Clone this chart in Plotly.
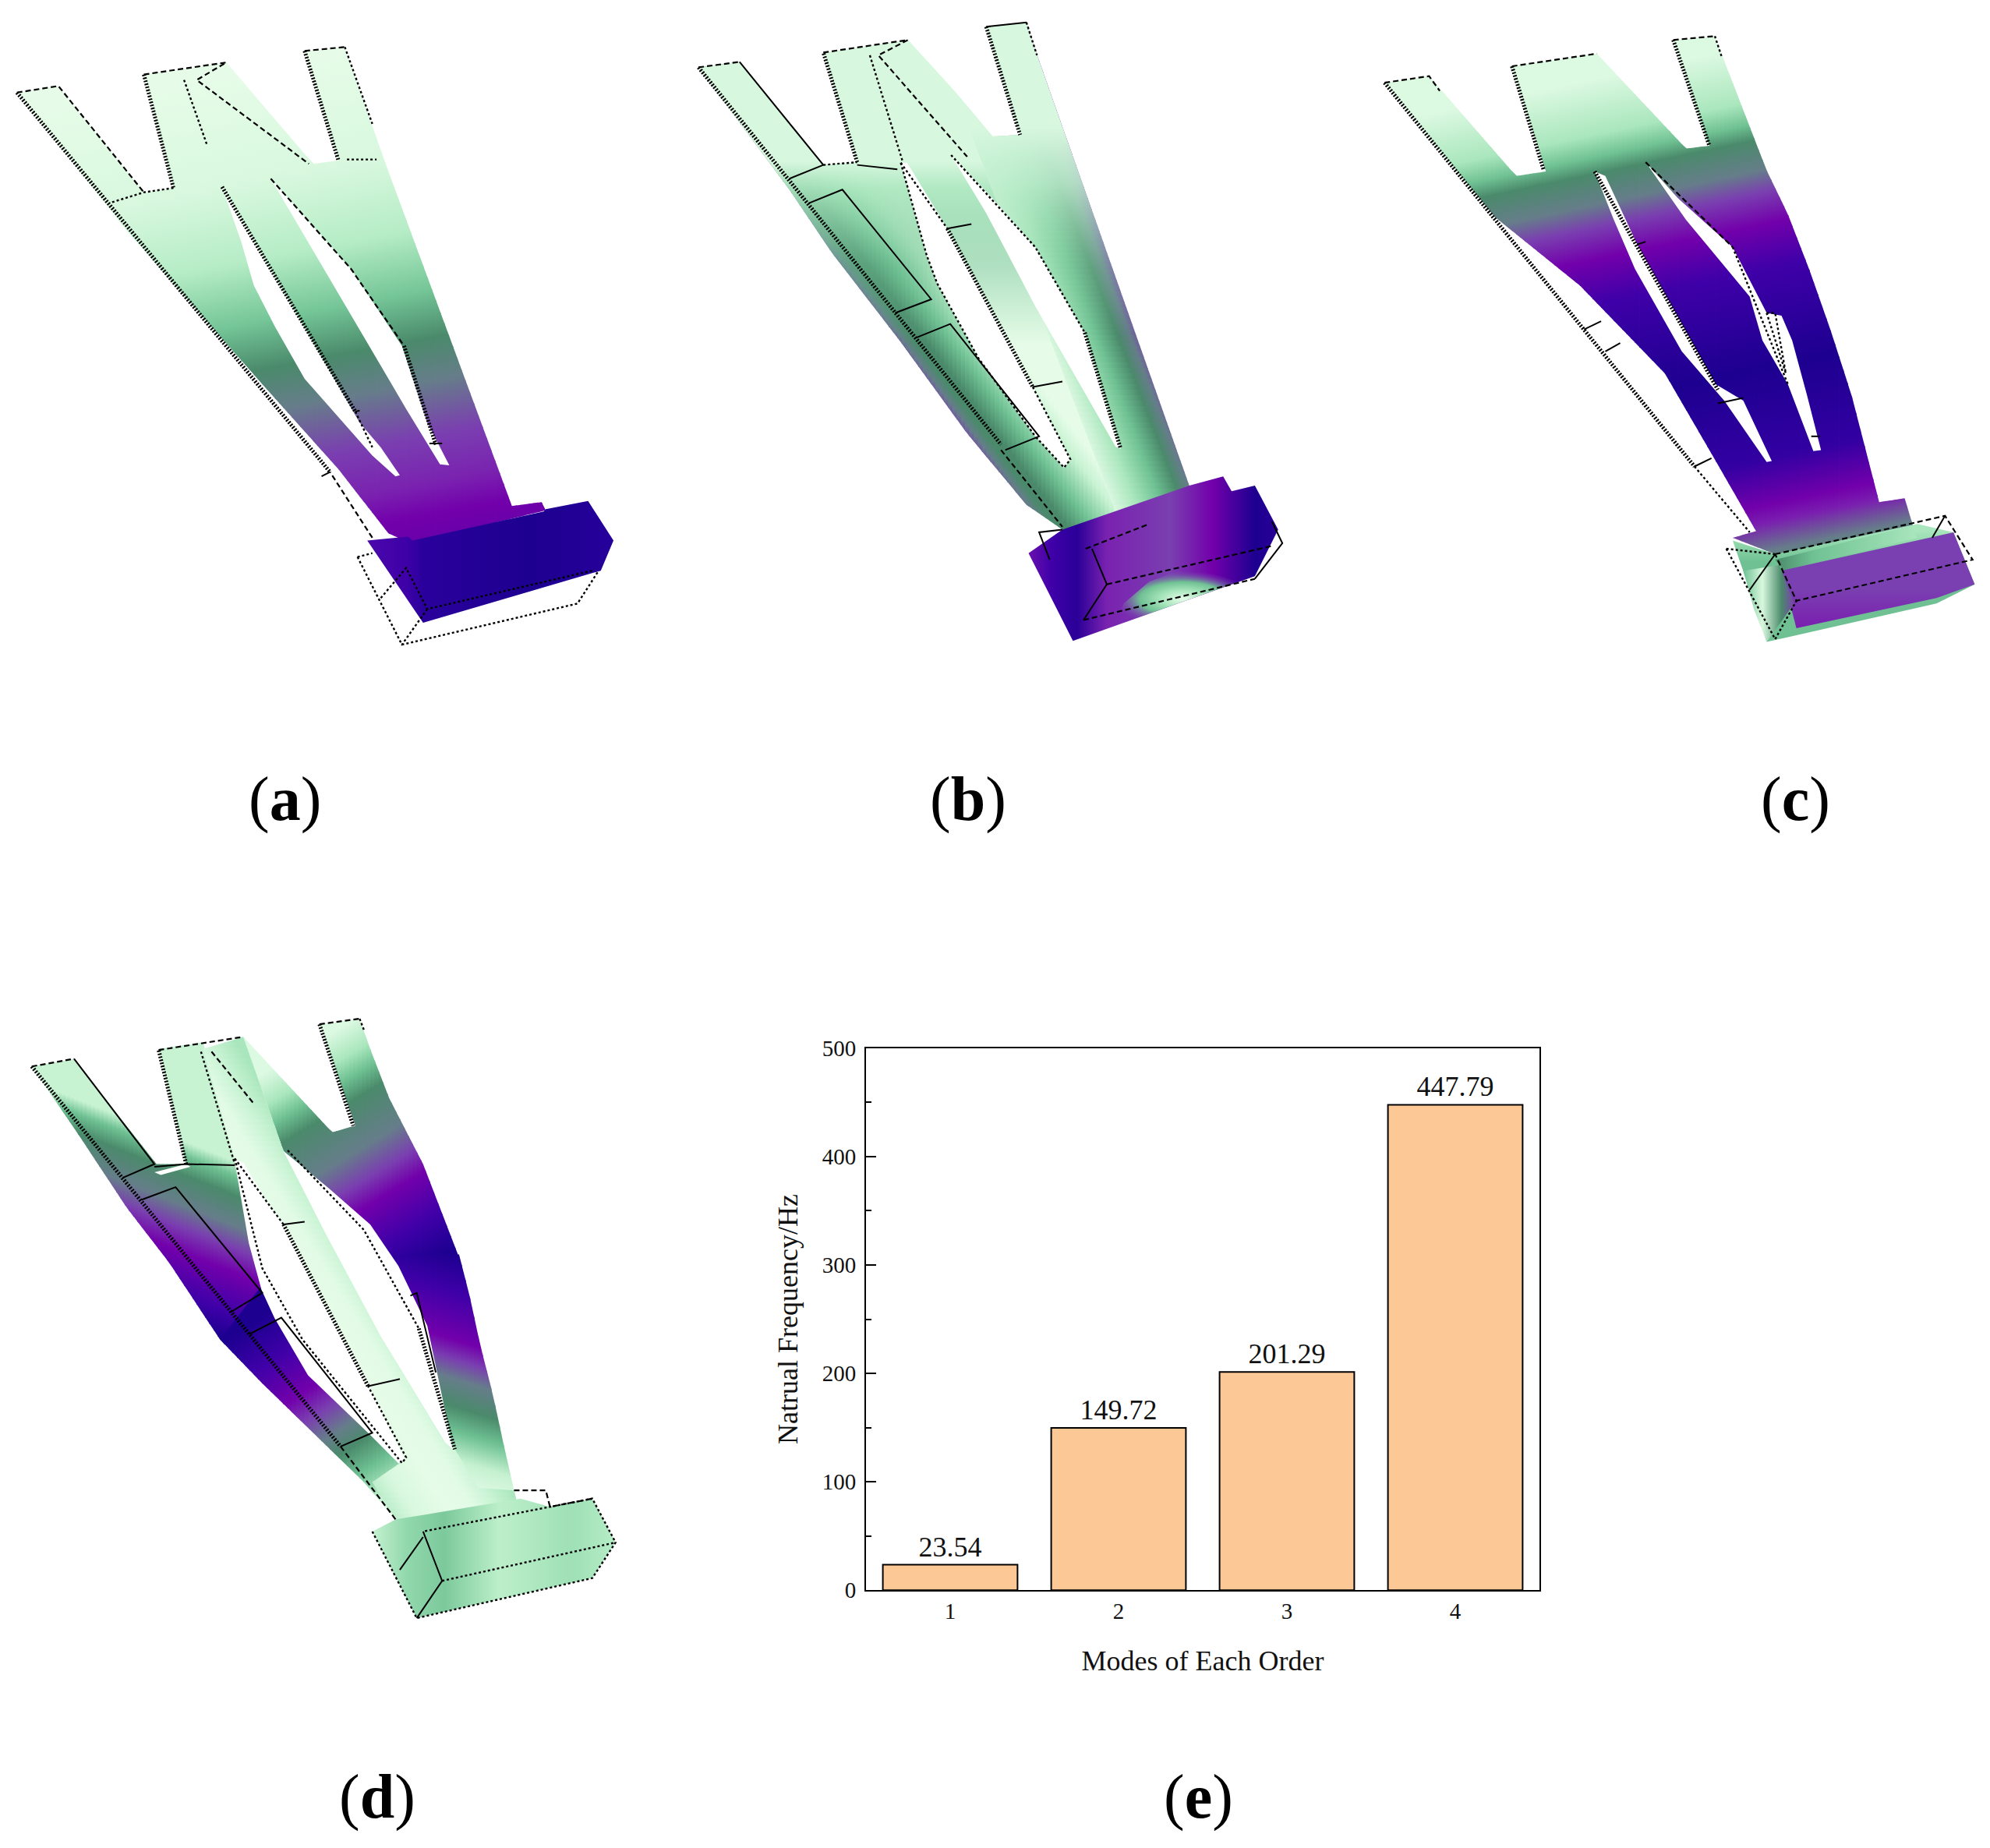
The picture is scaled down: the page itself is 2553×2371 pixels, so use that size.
import plotly.graph_objects as go

W, H = 2553, 2371

# ---------- bar chart (e) ----------
modes = [1, 2, 3, 4]
frequencies = [23.54, 149.72, 201.29, 447.79]
freq_labels = ["23.54", "149.72", "201.29", "447.79"]
y_ticks = [0, 100, 200, 300, 400, 500]
x_title = "Modes of Each Order"
y_title = "Natrual Frequency/Hz"
panel_letters = ["a", "b", "c", "d", "e"]

# ---------- palette read from the mode shapes ----------
M0, M1, M2, G1, G2 = "#e6fce8", "#c8f3d3", "#a9e6bd", "#6fc193", "#4a8a6b"
GY, VI, PU, B1, B2 = "#667d8a", "#7a3fb0", "#7200ab", "#3f00a8", "#1d0090"

# ---------- panel (a), outlines in crop units ----------
A_BODY = [(40,168),(138,156),(340,350),(410,342),(340,135),(535,113),(740,298),(800,292),(720,92),(815,85),(910,295),(1210,922),(1280,915),(1290,930),(970,990),(918,972),(800,855),(620,700),(500,595),(300,420)]
A_STOPS = [(214,M0),(414,"#d8f8de"),(554,"#b5ecc6"),(666,"#74c597"),(753,G2),(830,GY),(927,VI),(1014,"#7a22b0"),(1070,PU),(1130,"#6600a8")]
A_BASE = [(868,985),(965,978),(975,985),(1285,932),(1290,928),(1390,913),(1450,985),(1420,1040),(1000,1135)]
A_BASE_STOPS = [(868,"#4a08ab"),(960,"#3f00a8"),(1000,"#2a009c"),(1250,B2),(1450,"#26009a")]
A_HOLES = [
    [(525,340),(570,440),(600,520),(650,595),(720,690),(800,760),(880,830),(935,868),(945,866),(900,815),(850,770),(835,750),(700,570)],
    [(640,325),(830,490),(950,630),(1010,770),(1062,848),(1040,846),(960,745)],
]
A_WIRE = {
    "dash": [[(40,168),(138,156),(340,350)],[(340,135),(535,113),(465,145),(730,298)],[(720,92),(815,85)],[(640,325),(830,490),(955,630)],[(880,980),(780,860)]],
    "dot": [[(410,342),(340,350),(265,368)],[(435,145),(490,265)],[(815,85),(880,225)],[(845,1015),(880,1008)],[(845,1015),(950,1175),(1365,1100),(1415,1040)],[(900,1090),(960,1035),(1010,1110),(1400,1040)],[(1010,1110),(950,1175)],[(820,290),(890,290)],[(840,750),(880,815)]],
    "hatch": [[(40,168),(780,860)],[(340,135),(410,342)],[(720,92),(800,292)],[(525,340),(840,750)],[(955,630),(1030,810)]],
    "solid": [[(1015,808),(1045,808)],[(840,750),(850,748)],[(780,860),(760,868)]],
}

# ---------- panel (b) ----------
B_LEFT = [(85,122),(182,112),(380,300),(460,295),(380,95),(580,72),(690,165),(1085,960),(945,965),(860,920),(720,790),(560,620),(400,460),(300,345)]
B_RIGHT = [(690,165),(780,248),(845,245),(765,48),(860,40),(890,110),(1245,885),(1245,960),(1085,960)]
B_LEFT_STOPS = [(-70,VI),(-45,GY),(-20,G2),(10,G2),(70,G1),(150,M1),(200,M0)]
B_RIGHT_STOPS = [(590,M0),(660,M2),(720,G1),(770,G2),(800,GY),(830,VI),(860,PU)]
B_LEFT_FADE = [(290,"rgba(215,247,222,1)"),(340,"rgba(170,230,190,0.9)"),(480,"rgba(110,190,145,0.45)"),(620,"rgba(110,190,145,0)")]
B_RIGHT_FADE = [(230,"rgba(215,247,222,1)"),(330,"rgba(190,238,205,0.85)"),(480,"rgba(150,220,175,0.3)"),(600,"rgba(150,220,175,0)")]
B_BASE = [(865,1008),(945,965),(1245,885),(1325,868),(1345,895),(1400,885),(1455,965),(1400,1050),(970,1168)]
B_BASE_STOPS = [(865,"#6a10ae"),(920,B1),(980,"#2a0098"),(1050,"#7a22b0"),(1200,VI),(1300,PU),(1400,B2),(1455,"#2a0098")]
B_GLOW = [(1060,1143),(1090,1100),(1150,1060),(1220,1040),(1300,1045),(1360,1060),(1400,1050)]
B_GLOW_STOPS = [(0,M0),(0.3,M2),(0.6,G1),(1,"rgba(122,63,176,0)")]
B_HOLES = [
    [(563,296),(578,296),(673,416),(875,705),(964,837),(949,852),(881,795),(747,653),(649,516),(624,464)],
    [(682,282),(783,364),(881,450),(998,606),(1083,818),(1071,814),(881,558),(765,388)],
]
B_WIRE = {
    "dash": [[(85,122),(182,112)],[(380,95),(580,72),(510,100),(720,285)],[(800,820),(945,960)],[(1000,1000),(1150,955)],[(1050,1065),(1440,995)],[(995,1130),(1400,1055)]],
    "dot": [[(380,300),(460,295)],[(490,100),(568,295)],[(563,296),(673,416)],[(563,296),(624,464),(649,516),(747,653),(881,795)],[(875,705),(964,837),(949,852),(881,795)],[(682,282),(881,450),(998,606)],[(860,40),(885,100)]],
    "hatch": [[(85,122),(800,810)],[(460,295),(380,95)],[(765,48),(845,245)],[(673,416),(875,705)],[(998,606),(1083,818)]],
    "solid": [[(182,112),(380,300),(300,325)],[(460,300),(555,308)],[(945,965),(890,970),(915,1020)],[(345,370),(425,345),(635,545),(550,570)],[(600,615),(680,590),(890,795),(810,820)],[(673,416),(730,408)],[(875,705),(945,695)],[(765,48),(860,40)],[(1015,1000),(1050,1065),(995,1130)],[(1400,1055),(1465,990),(1440,950)]],
}

# ---------- panel (c) ----------
C_BODY = [(140,150),(245,138),(450,320),(520,312),(438,120),(640,97),(850,270),(905,265),(820,72),(918,65),(940,110),(1040,310),(1090,390),(1140,490),(1190,600),(1240,720),(1280,840),(1305,915),(1365,908),(1395,985),(1060,1010),(960,980),(1015,968),(920,840),(800,680),(600,520),(400,395)]
C_STOPS = [(244,"#dcf9e1"),(344,M2),(384,G1),(414,G2),(470,GY),(510,VI),(568,PU),(648,B1),(826,B2),(992,"#3300a2"),(1075,PU),(1106,"#7a1eb0"),(1158,GY),(1190,G2),(1260,G1)]
C_HOLES = [
    [(635,312),(660,320),(735,445),(920,700),(985,730),(1052,840),(1040,842),(940,730),(840,640),(730,490),(680,400)],
    [(755,295),(830,360),(960,450),(1040,570),(1075,575),(1100,620),(1135,720),(1168,820),(1150,822),(1090,700),(1030,620),(1000,540),(850,400)],
]
C_BASE = [(960,985),(1060,1010),(1395,955),(1480,970),(1530,1065),(1440,1100),(1040,1170),(1000,1075)]
C_BASE_STOPS = [(955,M2),(1010,G1),(1060,G1),(1180,G1)]
C_STRIP = [(1060,1020),(1380,958),(1395,980),(1080,1040)]
C_STRIP_STOPS = [(1060,G2),(1150,G1),(1395,M2)]
C_FRONT = [(1075,1040),(1480,970),(1530,1065),(1440,1090),(1110,1145)]
C_FRONT_STOPS = [(970,VI),(1060,VI),(1130,"#7a1eb0")]
C_SIDE = [(985,1040),(1070,1030),(1105,1100),(1040,1170),(1010,1110)]
C_SIDE_STOPS = [(985,G1),(1030,"#d8f8de"),(1075,G2),(1105,VI)]
C_WIRE = {
    "dash": [[(140,150),(245,138),(270,165)],[(440,120),(640,97)],[(820,72),(918,65)],[(1060,1010),(1460,940),(1525,1020),(1110,1095),(1060,1010)],[(755,295),(960,450)]],
    "dot": [[(945,1000),(1060,1010)],[(945,1000),(1060,1165),(1110,1095)],[(918,65),(935,105)],[(960,450),(1090,700)],[(1040,570),(1060,570),(1085,680),(1040,570)],[(870,850),(1000,970)]],
    "hatch": [[(140,150),(870,850)],[(440,120),(515,310)],[(820,72),(905,265)],[(635,312),(925,710)]],
    "solid": [[(610,600),(650,585)],[(660,640),(695,625)],[(870,850),(910,835)],[(925,735),(985,725)],[(735,445),(755,440)],[(1000,1075),(1060,1010)],[(1145,795),(1165,795)],[(1460,940),(1430,980)]],
}

# ---------- panel (d) ----------
D_UPLEFT = [(75,142),(175,128),(370,320),(440,320),(375,110),(480,98),(560,320),(620,520),(660,570),(590,640),(520,640),(400,500),(300,400),(180,260)]
D_UPLEFT_STOPS = [(144,M1),(170,G1),(205,G2),(260,GY),(300,VI),(345,PU),(420,B1),(470,B2)]
D_LOWLEFT = [(520,640),(620,540),(950,868),(1040,1000),(935,968),(860,900),(740,810),(620,720)]
D_LOWLEFT_STOPS = [(900,B2),(990,B1),(1085,PU),(1140,VI),(1195,GY),(1240,G2),(1300,G1),(1370,M1),(1420,"#e2fbe6")]
D_UPRIGHT = [(575,88),(785,262),(840,250),(755,65),(850,55),(875,110),(920,200),(1000,320),(1085,490),(900,490),(670,296)]
D_UPRIGHT_STOPS = [(440,"#dcf9e1"),(500,M2),(540,G1),(585,G2),(680,GY),(740,VI),(790,PU),(880,B1),(960,B2),(1000,B2)]
D_LOWRIGHT = [(900,485),(1085,485),(1110,560),(1135,650),(1165,740),(1190,830),(1215,915),(1100,950),(1000,800)]
D_LOWRIGHT_STOPS = [(230,B2),(300,B1),(385,PU),(420,VI),(455,GY),(505,G2),(550,G1),(600,"#c5f1d0"),(650,"#e2fbe6")]
D_BEAM = [(480,110),(575,88),(670,296),(1075,840),(1130,910),(1215,915),(1230,960),(1000,1000),(935,968),(880,900),(955,860),(670,430),(555,312)]
D_BEAM_STOPS = [(120,M2),(210,"#d8f8de"),(300,M0),(360,"#e2fbe6"),(420,M1),(480,M2)]
D_BASE = [(880,990),(935,968),(1000,960),(1230,930),(1300,945),(1400,930),(1455,1010),(1400,1075),(985,1148)]
D_BASE_STOPS = [(880,"#c5f1d0"),(960,"#92d8ad"),(1050,"#7cc99c"),(1180,"#bcefca"),(1350,"#9fe0b6"),(1455,"#b5ecc6")]
D_HOLES = [
    [(554,312),(575,317),(667,435),(869,719),(955,856),(942,866),(875,814),(728,705),(649,601),(618,549),(588,464)],
    [(670,296),(777,364),(875,430),(942,506),(1010,615),(1071,840),(1053,828),(900,634),(771,449)],
    [(365,335),(440,320),(450,325),(380,340)],
]
D_WIRE = {
    "dash": [[(75,142),(175,128)],[(375,112),(575,88)],[(755,65),(850,55)],[(500,115),(600,210)],[(805,835),(935,968)],[(1215,915),(1290,915),(1300,945),(1400,930)]],
    "dot": [[(475,115),(555,320)],[(555,310),(620,510),(715,640),(950,865),(960,855),(870,725)],[(670,430),(555,310)],[(680,295),(860,440),(990,620)],[(880,990),(985,1148),(1400,1075),(1455,1010),(1400,930),(1000,990)],[(1045,1080),(1455,1010)],[(850,55),(860,75)]],
    "hatch": [[(75,142),(805,835)],[(440,320),(375,112)],[(755,65),(835,250)],[(670,430),(870,725)],[(990,620),(1075,840)]],
    "solid": [[(175,128),(365,320),(290,345)],[(365,325),(440,320),(555,322)],[(335,385),(415,362),(620,555),(545,590)],[(590,630),(665,600),(880,810),(805,835)],[(670,430),(720,425)],[(870,725),(945,712)],[(970,560),(985,555),(1030,700)],[(1000,990),(1045,1080),(985,1148)],[(945,1060),(1000,1000)]],
}

fig = go.Figure()
STRIP = 10


def clip(poly, axis, limit, keep_above):
    out = []
    n = len(poly)
    for i in range(n):
        p, q = poly[i], poly[(i + 1) % n]
        pin = (p[axis] >= limit) if keep_above else (p[axis] <= limit)
        qin = (q[axis] >= limit) if keep_above else (q[axis] <= limit)
        if pin:
            out.append(p)
        if pin != qin:
            r = (limit - p[axis]) / (q[axis] - p[axis])
            out.append((p[0] + r * (q[0] - p[0]), p[1] + r * (q[1] - p[1])))
    return out


def add_poly(poly, ax, kind, stops=None, start=None, stop=None, color=None):
    xs = [p[0] for p in poly] + [poly[0][0]]
    ys = [p[1] for p in poly] + [poly[0][1]]
    kw = dict(fillcolor=color) if color else {}
    if stops:
        t0, t1 = stops[0][0], stops[-1][0]
        scale = [[(t - t0) / (t1 - t0), c] for t, c in stops]
        grad = dict(type=kind, colorscale=scale)
        if start is not None:
            grad.update(start=start, stop=stop)
        kw = dict(fillgradient=grad)
    fig.add_trace(go.Scatter(x=xs, y=ys, mode="lines", fill="toself", line=dict(width=0),
                             hoverinfo="skip", showlegend=False, xaxis=ax[0], yaxis=ax[1], **kw))


def band(poly, ax, normal, stops):
    """Linear gradient across a tilted direction, cut into thin strips."""
    nx, ny = normal
    t0, t1 = stops[0][0], stops[-1][0]
    vertical = abs(ny) >= abs(nx)
    axis = 0 if vertical else 1
    lo = min(p[axis] for p in poly)
    hi = max(p[axis] for p in poly)
    c = lo
    while c < hi:
        piece = clip(clip(poly, axis, c, True), axis, c + STRIP + 1.5, False)
        if len(piece) >= 3:
            m = c + STRIP / 2
            if vertical:
                add_poly(piece, ax, "vertical", stops, (t0 - nx * m) / ny, (t1 - nx * m) / ny)
            else:
                add_poly(piece, ax, "horizontal", stops, (t0 - ny * m) / nx, (t1 - ny * m) / nx)
        c += STRIP


def linear(poly, ax, kind, stops):
    add_poly(poly, ax, kind, stops, stops[0][0], stops[-1][0])


def holes(hole_list, ax):
    for h in hole_list:
        add_poly(h, ax, None, color="#ffffff")


WIRE_STYLE = {
    "solid": dict(width=2.0, dash="solid"),
    "dash": dict(width=2.2, dash="7px,4px"),
    "dot": dict(width=2.4, dash="3px,3px"),
    "hatch": dict(width=5.0, dash="2px,2px"),
}


def wires(groups, ax):
    for style, lines in groups.items():
        xs, ys = [], []
        for ln in lines:
            xs += [p[0] for p in ln] + [None]
            ys += [p[1] for p in ln] + [None]
        fig.add_trace(go.Scatter(x=xs, y=ys, mode="lines", line=dict(color="#000000", **WIRE_STYLE[style]),
                                 hoverinfo="skip", showlegend=False, xaxis=ax[0], yaxis=ax[1]))


AX_A, AX_B, AX_C, AX_D = ("x2", "y2"), ("x3", "y3"), ("x4", "y4"), ("x5", "y5")

# (a)
band(A_BODY, AX_A, (0.143, 1), A_STOPS)
linear(A_BASE, AX_A, "horizontal", A_BASE_STOPS)
holes(A_HOLES, AX_A)
wires(A_WIRE, AX_A)

# (b)
band(B_LEFT, AX_B, (1, -1.0), B_LEFT_STOPS)
band(B_RIGHT, AX_B, (1, -0.5), B_RIGHT_STOPS)
linear(B_LEFT, AX_B, "vertical", B_LEFT_FADE)
linear(B_RIGHT, AX_B, "vertical", B_RIGHT_FADE)
linear(B_BASE, AX_B, "horizontal", B_BASE_STOPS)
add_poly(B_GLOW, AX_B, "radial", B_GLOW_STOPS)
holes(B_HOLES, AX_B)
wires(B_WIRE, AX_B)

# (c)
band(C_BODY, AX_C, (0.16, 1), C_STOPS)
holes(C_HOLES, AX_C)
linear(C_BASE, AX_C, "vertical", C_BASE_STOPS)
linear(C_STRIP, AX_C, "horizontal", C_STRIP_STOPS)
linear(C_FRONT, AX_C, "vertical", C_FRONT_STOPS)
linear(C_SIDE, AX_C, "horizontal", C_SIDE_STOPS)
wires(C_WIRE, AX_C)

# (d)
band(D_UPLEFT, AX_D, (-0.3, 1), D_UPLEFT_STOPS)
band(D_LOWLEFT, AX_D, (0.5, 1), D_LOWLEFT_STOPS)
band(D_UPRIGHT, AX_D, (0.46, 1), D_UPRIGHT_STOPS)
band(D_LOWRIGHT, AX_D, (-0.23, 1), D_LOWRIGHT_STOPS)
band(D_BEAM, AX_D, (1, -0.8), D_BEAM_STOPS)
linear(D_BASE, AX_D, "horizontal", D_BASE_STOPS)
holes(D_HOLES, AX_D)
wires(D_WIRE, AX_D)

# (e)
fig.add_trace(go.Bar(x=modes, y=frequencies, width=0.8, marker=dict(color="#FCC896", line=dict(color="#000000", width=2)),
                     text=freq_labels, textposition="outside", cliponaxis=False,
                     textfont=dict(family="Liberation Serif", size=36, color="#111111"),
                     hoverinfo="skip", showlegend=False))

SERIF = "Liberation Serif"
fig.update_layout(
    width=W, height=H, margin=dict(l=0, r=0, t=0, b=0), paper_bgcolor="white", plot_bgcolor="white",
    font=dict(family=SERIF, color="#111111"),
    xaxis=dict(domain=[1111 / W, 1975 / W], range=[0.5, 4.5], tickmode="array", tickvals=modes, ticktext=[str(m) for m in modes],
               ticks="", showgrid=False, zeroline=False, showline=True, linecolor="#000000", linewidth=2, mirror=True,
               tickfont=dict(size=29), title=dict(text=x_title, font=dict(size=36), standoff=36)),
    yaxis=dict(domain=[1 - 2052 / H, 1 - 1347 / H], range=[0, 500], tickmode="array", tickvals=y_ticks, ticktext=[str(v) for v in y_ticks],
               ticks="inside", ticklen=13, tickwidth=1.5, tickcolor="#000000", showgrid=False, zeroline=False, ticklabelstandoff=5,
               minor=dict(dtick=50, ticks="inside", ticklen=7, tickwidth=1.5, tickcolor="#000000", showgrid=False),
               showline=True, linecolor="#000000", linewidth=2, mirror=True,
               tickfont=dict(size=29), title=dict(text=y_title, font=dict(size=36), standoff=20)),
)

CROPS = {2: (0, 0, 850, 1100, 21.9, 1564.6), 3: (850, 0, 1700, 1100, 21.9, 1564.6),
         4: (1700, 0, 2553, 1100, 21.9, 1564.6), 5: (0, 1270, 850, 2371, 0.7, 1544.4)}
for i, (x0, y0, x1, y1, z0, z1) in CROPS.items():
    fig.update_layout({
        f"xaxis{i}": dict(domain=[x0 / W, x1 / W], range=[0, 1566], visible=False, fixedrange=True),
        f"yaxis{i}": dict(domain=[1 - y1 / H, 1 - y0 / H], range=[z1, z0], visible=False, fixedrange=True),
    })

LABEL_X = [365, 1242, 2303, 484, 1537]
LABEL_Y = [1023, 1023, 1023, 2321, 2321]
for letter, lx, ly in zip(panel_letters, LABEL_X, LABEL_Y):
    fig.add_annotation(text=f"(<b>{letter}</b>)", x=lx / W, y=1 - ly / H, xref="paper", yref="paper",
                       xanchor="center", yanchor="middle", showarrow=False,
                       font=dict(family=SERIF, size=80, color="#000000"))

fig.write_html("out.html", post_script="document.body.style.margin='0';", config=dict(displayModeBar=False))
